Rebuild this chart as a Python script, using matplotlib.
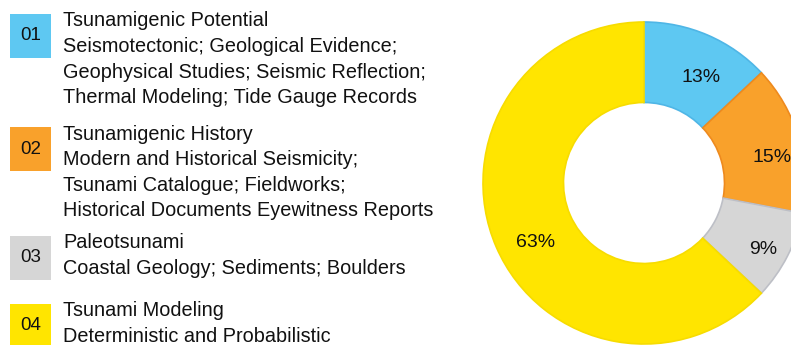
import matplotlib
matplotlib.use("Agg")
import matplotlib.pyplot as plt
from matplotlib.patches import Rectangle

plt.rcParams['font.family'] = ['Liberation Sans', 'DejaVu Sans']

# Share of studies per approach (percent)
codes = ["01", "02", "03", "04"]
shares = [13, 15, 9, 63]
titles = ["Tsunamigenic Potential", "Tsunamigenic History", "Paleotsunami", "Tsunami Modeling"]
details = [
    ["Seismotectonic; Geological Evidence;",
     "Geophysical Studies; Seismic Reflection;",
     "Thermal Modeling; Tide Gauge Records"],
    ["Modern and Historical Seismicity;",
     "Tsunami Catalogue; Fieldworks;",
     "Historical Documents Eyewitness Reports"],
    ["Coastal Geology; Sediments; Boulders"],
    ["Deterministic and Probabilistic"],
]
colors = ["#5EC8F2", "#F9A12B", "#D6D6D6", "#FFE500"]
edges = ["#4FB6E6", "#EE8A1E", "#BDBFC6", "#F7DC00"]

W, H = 791, 345
fig = plt.figure(figsize=(W / 100, H / 100), dpi=100)

# Legend panel in pixel coordinates
lax = fig.add_axes([0, 0, 1, 1])
lax.set_xlim(0, W)
lax.set_ylim(H, 0)
lax.axis("off")

box_tops = [14, 127, 236, 304]
line_gap = 25.6
fs = 14.3
for i, code in enumerate(codes):
    top = box_tops[i]
    lax.add_patch(Rectangle((10, top), 41, 44, facecolor=colors[i], edgecolor="none"))
    lax.text(30.5, top + 22, code, ha="center", va="center", fontsize=13.5, color="#111111")
    lines = [titles[i]] + details[i]
    for j, line in enumerate(lines):
        lax.text(63, top + 7 + j * line_gap, line, ha="left", va="center",
                 fontsize=fs, color="#111111")

# Donut chart
cx, cy, r = 644, 183, 161
pax = fig.add_axes([(cx - r) / W, (H - cy - r) / H, 2 * r / W, 2 * r / H])
wedges, _, autotexts = pax.pie(
    shares, colors=colors, startangle=90, counterclock=False, radius=1,
    autopct=lambda p: f"{p:.0f}%", pctdistance=0.78,
    wedgeprops=dict(width=0.5, linewidth=1.2),
    textprops=dict(fontsize=14, color="#111111"),
)
for w, ec in zip(wedges, edges):
    w.set_edgecolor(ec)
# nudge the percentage labels slightly right and down
for t in autotexts:
    x, y = t.get_position()
    t.set_position((x + 0.045, y - 0.06))
pax.set_xlim(-1, 1)
pax.set_ylim(-1, 1)
pax.set_aspect("equal")
pax.axis("off")

fig.savefig("out.png", dpi=100)
